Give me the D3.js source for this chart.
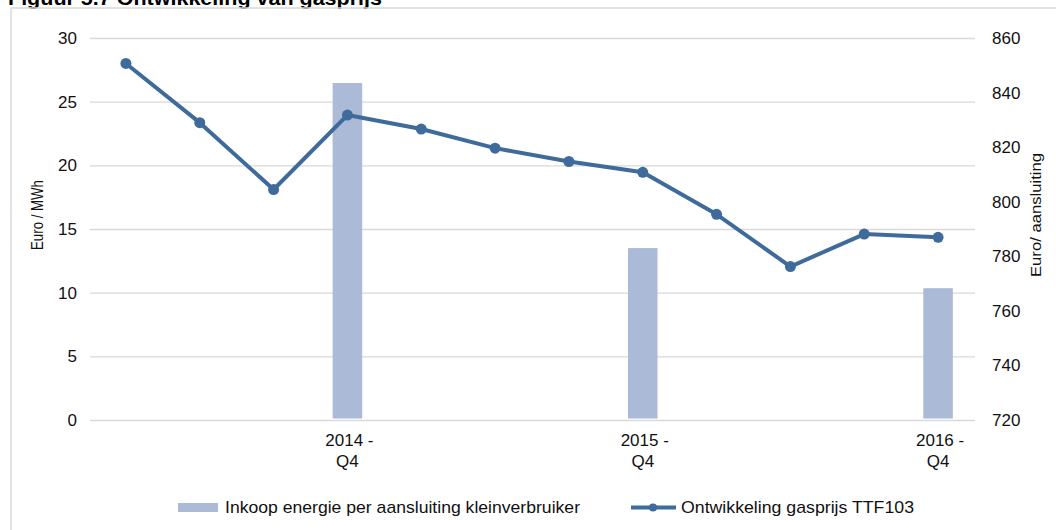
<!DOCTYPE html>
<html>
<head>
<meta charset="utf-8">
<script src="https://cdn.jsdelivr.net/npm/d3@7"></script>
<style>
  body { margin: 0; background: #fff; }
  svg { display: block; font-family: "Liberation Sans", Arial, sans-serif; }
</style>
</head>
<body>
<svg id="chart" width="1056" height="530"></svg>
<script>
// quarters 2014 Q1 .. 2016 Q4
const quarters = [
  "2014 - Q1", "2014 - Q2", "2014 - Q3", "2014 - Q4",
  "2015 - Q1", "2015 - Q2", "2015 - Q3", "2015 - Q4",
  "2016 - Q1", "2016 - Q2", "2016 - Q3", "2016 - Q4"
];
// Ontwikkeling gasprijs TTF103 (Euro / MWh, left axis)
const gasPrice = [28.0, 23.35, 18.1, 23.95, 22.85, 21.35, 20.3, 19.45, 16.15, 12.05, 14.6, 14.35];
// Inkoop energie per aansluiting kleinverbruiker (Euro/ aansluiting, right axis)
const barQuarters = ["2014 - Q4", "2015 - Q4", "2016 - Q4"];
const purchase = [843.5, 783, 768.3];

const leftTicks = [0, 5, 10, 15, 20, 25, 30];
const rightTicks = [720, 740, 760, 780, 800, 820, 840, 860];

const lineColor = "#3f6a9c";
const barColor = "#abbad7";
const gridColor = "#d9d9d9";

const margin = { top: 38, right: 975, bottom: 420, left: 90 };

const svg = d3.select("#chart");

// frame + title (cut off at the top edge, as in the source)
svg.append("text")
  .attr("x", 8)
  .attr("y", 4.5)
  .attr("textLength", 374)
  .attr("lengthAdjust", "spacingAndGlyphs")
  .style("font-size", "20px")
  .style("font-weight", "bold")
  .text("Figuur 5.7 Ontwikkeling van gasprijs");

svg.append("rect")
  .attr("x", 11)
  .attr("y", 8)
  .attr("width", 1100)
  .attr("height", 600)
  .attr("fill", "none")
  .attr("stroke", gridColor)
  .attr("stroke-width", 1.5);

const x = d3.scaleBand()
  .domain(quarters)
  .range([89, 975])
  .padding(0);

const yLeft = d3.scaleLinear().domain([0, 30]).range([margin.bottom, margin.top]);
const yRight = d3.scaleLinear().domain([720, 860]).range([margin.bottom, margin.top]);

// left axis with gridlines
const leftAxis = svg.append("g")
  .attr("transform", `translate(${margin.left},0)`)
  .call(d3.axisLeft(yLeft).tickValues(leftTicks).tickSize(-(margin.right - margin.left)).tickPadding(13));
leftAxis.select(".domain").remove();
leftAxis.selectAll("line").attr("stroke", gridColor).attr("stroke-width", 1.3);
leftAxis.selectAll("text").style("font-size", "17px").attr("fill", "#111");

// right axis
const rightAxis = svg.append("g")
  .attr("transform", `translate(${margin.right},0)`)
  .call(d3.axisRight(yRight).tickValues(rightTicks).tickSize(0).tickPadding(17));
rightAxis.select(".domain").remove();
rightAxis.selectAll("text").style("font-size", "17px").attr("fill", "#111");

// x axis, only Q4 labelled, two lines
const xAxis = svg.append("g")
  .attr("transform", `translate(0,${margin.bottom})`)
  .call(d3.axisBottom(x).tickSize(0).tickFormat(d => d.endsWith("Q4") ? d : ""));
xAxis.select(".domain").remove();
xAxis.selectAll("text").each(function(d) {
  const t = d3.select(this);
  t.text(null).attr("y", 0).attr("dy", null).attr("fill", "#111").style("font-size", "17px");
  if (!d.endsWith("Q4")) return;
  const parts = d.split(" - ");
  t.append("tspan").attr("x", 2).attr("y", 26).text(parts[0] + " -");
  t.append("tspan").attr("x", 0).attr("y", 47).text(parts[1]);
});

// bars
const barW = x.bandwidth() * 0.4;
svg.append("g")
  .selectAll("rect")
  .data(barQuarters.map((q, i) => ({ q, v: purchase[i] })))
  .join("rect")
  .attr("x", d => x(d.q) + x.bandwidth() / 2 - barW / 2)
  .attr("y", d => yRight(d.v))
  .attr("width", barW)
  .attr("height", d => yRight(720) - 1.5 - yRight(d.v))
  .attr("fill", barColor);

// line
const pts = quarters.map((q, i) => ({ q, v: gasPrice[i] }));
svg.append("path")
  .datum(pts)
  .attr("fill", "none")
  .attr("stroke", lineColor)
  .attr("stroke-width", 4)
  .attr("stroke-linejoin", "round")
  .attr("d", d3.line().x(d => x(d.q) + x.bandwidth() / 2).y(d => yLeft(d.v)));

svg.append("g")
  .selectAll("circle")
  .data(pts)
  .join("circle")
  .attr("cx", d => x(d.q) + x.bandwidth() / 2)
  .attr("cy", d => yLeft(d.v))
  .attr("r", 5.5)
  .attr("fill", lineColor);

// axis titles
svg.append("text")
  .attr("transform", "translate(43,215) rotate(-90)")
  .attr("text-anchor", "middle")
  .attr("textLength", 70)
  .attr("lengthAdjust", "spacingAndGlyphs")
  .style("font-size", "16px")
  .attr("fill", "#111")
  .text("Euro / MWh");

svg.append("text")
  .attr("transform", "translate(1041,215) rotate(-90)")
  .attr("text-anchor", "middle")
  .attr("textLength", 124)
  .attr("lengthAdjust", "spacingAndGlyphs")
  .style("font-size", "15px")
  .attr("fill", "#111")
  .text("Euro/ aansluiting");

// legend
const legend = svg.append("g").style("font-size", "17px").attr("fill", "#111");
legend.append("rect")
  .attr("x", 178).attr("y", 503).attr("width", 40).attr("height", 9)
  .attr("fill", barColor);
legend.append("text")
  .attr("x", 225).attr("y", 513)
  .attr("textLength", 355)
  .attr("lengthAdjust", "spacingAndGlyphs")
  .text("Inkoop energie per aansluiting kleinverbruiker");
legend.append("line")
  .attr("x1", 631).attr("x2", 676).attr("y1", 507.5).attr("y2", 507.5)
  .attr("stroke", lineColor).attr("stroke-width", 4);
legend.append("circle")
  .attr("cx", 653).attr("cy", 507.5).attr("r", 4)
  .attr("fill", lineColor);
legend.append("text")
  .attr("x", 681).attr("y", 513)
  .attr("textLength", 233)
  .attr("lengthAdjust", "spacingAndGlyphs")
  .text("Ontwikkeling gasprijs TTF103");
</script>
</body>
</html>
